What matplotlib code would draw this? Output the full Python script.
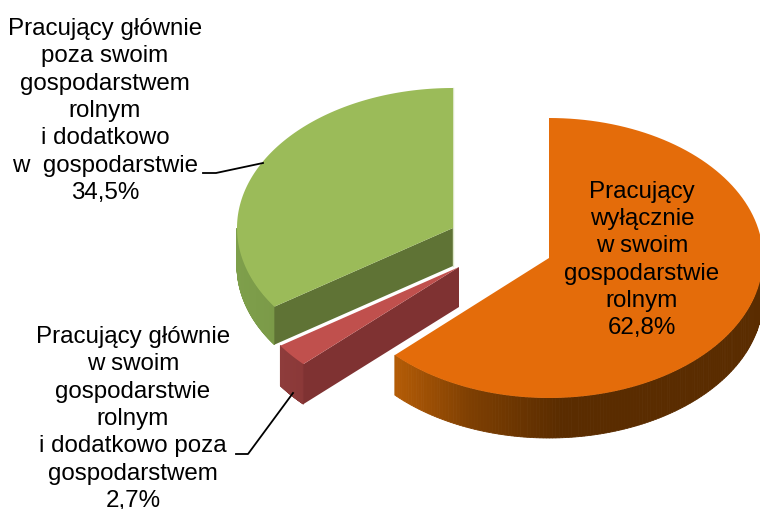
"""Exploded 3D-look pie of farm workers by work type, drawn in pixel space."""
import matplotlib
matplotlib.use("Agg")
import matplotlib.pyplot as plt
from matplotlib.colors import to_rgb
from matplotlib.patches import Polygon
import numpy as np

plt.rcParams["font.family"] = ["Liberation Sans", "DejaVu Sans"]

shares = [62.8, 2.7, 34.5]
names = [
    "Pracujący\nwyłącznie\nw swoim\ngospodarstwie\nrolnym",
    "Pracujący głównie\nw swoim\ngospodarstwie\nrolnym\ni dodatkowo poza\ngospodarstwem",
    "Pracujący głównie\npoza swoim\ngospodarstwem\nrolnym\ni dodatkowo\nw  gospodarstwie",
]
top_colors = ["#E46C0A", "#C0504D", "#9BBB59"]

# ellipse centre / radii in px for each exploded slice
centres = [(549, 258), (459, 267), (453, 228)]
rx = [214, 216, 216]
ry = 140
depth = [40, 40, 38]
label_pos = [(642, 260), (133, 419), (105, 111)]


def arc(i, a0, a1, n=120):
    # angles in degrees, clockwise from 12 o'clock
    t = np.radians(np.linspace(a0, a1, n))
    cx, cy = centres[i]
    return np.column_stack([cx + rx[i] * np.sin(t), cy - ry * np.cos(t)])


def strips(i, a0, a1, stops, z):
    # outer wall as thin quads, colour running with x position
    pts = arc(i, a0, a1, 160)
    xs, cols = zip(*stops)
    cols = np.array([to_rgb(c) for c in cols])
    for p, q in zip(pts[:-1], pts[1:]):
        mid = (p[0] + q[0]) / 2
        col = [np.interp(mid, xs, cols[:, k]) for k in range(3)]
        quad = [p, q, q + [0, depth[i]], p + [0, depth[i]]]
        ax.add_patch(Polygon(quad, fc=col, ec=col, lw=0.6, zorder=z))


fig = plt.figure(figsize=(7.6, 5.09), dpi=100)
ax = fig.add_axes([0, 0, 1, 1])
ax.set_xlim(0, 760)
ax.set_ylim(509, 0)
ax.axis("off")

edges = np.cumsum([0] + shares) * 3.6

# green slice (last, furthest back)
a0, a1 = edges[2], edges[3]
strips(2, a0, 270, [(237, "#7E9F4B"), (275, "#7B9A48")], 1)
cnr = arc(2, a0, a0, 1)[0]
apex = np.array(centres[2], float)
ax.add_patch(Polygon([apex, cnr, cnr + [0, depth[2]], apex + [0, depth[2]]],
                     fc="#5F7335", ec="none", zorder=2))
ax.add_patch(Polygon(np.vstack([[apex], arc(2, a0, a1)]), fc=top_colors[2], ec="none", zorder=3))
ax.plot([apex[0], apex[0]], [apex[1] - ry, apex[1] + depth[2]], color="#DDE6C8", lw=1, zorder=2)

# red slice
a0, a1 = edges[1], edges[2]
strips(1, a0, a1, [(281, "#8E3C3B"), (304, "#8A3838")], 4)
cnr = arc(1, a0, a0, 1)[0]
apex = np.array(centres[1], float)
ax.add_patch(Polygon([apex, cnr, cnr + [0, depth[1]], apex + [0, depth[1]]],
                     fc="#7F3232", ec="none", zorder=4))
ax.add_patch(Polygon(np.vstack([[apex], arc(1, a0, a1)]), fc=top_colors[1], ec="none", zorder=5))

# orange slice
a0, a1 = edges[0], edges[1]
strips(0, 90, a1, [(395, "#B45C06"), (470, "#7E3F02"), (560, "#5A2C00"), (765, "#5A2C00")], 6)
apex = np.array(centres[0], float)
ax.add_patch(Polygon(np.vstack([[apex], arc(0, a0, a1)]), fc=top_colors[0], ec="none", zorder=7))

# leader lines
ax.plot([203, 216, 263], [173, 173, 163], color="black", lw=1.3, zorder=8)
ax.plot([236, 248, 293], [454, 454, 393], color="black", lw=1.3, zorder=8)

for name, share, pos in zip(names, shares, label_pos):
    text = name + "\n" + f"{share:.1f}%".replace(".", ",")
    ax.text(pos[0], pos[1], text, ha="center", va="center", fontsize=17.4,
            linespacing=1.31, color="black", zorder=9)

fig.savefig("out.png", dpi=100, facecolor="white")
